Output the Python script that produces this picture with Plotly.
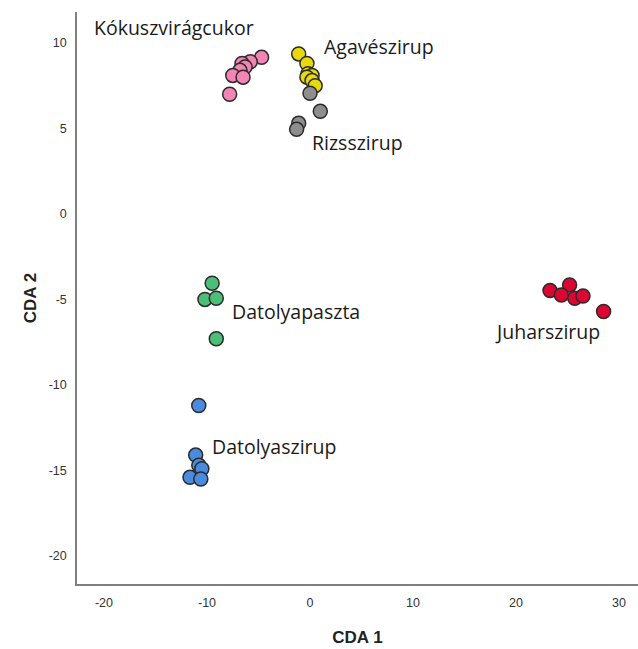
import plotly.graph_objects as go

# Canonical discriminant scores per syrup type
groups = ["Kókuszvirágcukor", "Agavészirup", "Rizsszirup", "Datolyapaszta", "Juharszirup", "Datolyaszirup"]

kokusz_x = [-4.7, -5.8, -6.6, -6.3, -6.8, -7.5, -6.5, -7.8]
kokusz_y = [9.16, 8.9, 8.8, 8.6, 8.4, 8.1, 8.0, 7.0]

agave_x = [-1.1, -0.3, -0.2, 0.2, -0.3, 0.2, 0.5]
agave_y = [9.36, 8.8, 8.2, 8.1, 8.0, 7.8, 7.5]

rizs_x = [0.0, 1.0, -1.1, -1.3]
rizs_y = [7.06, 6.0, 5.3, 4.95]

paszta_x = [-9.5, -10.2, -9.1, -9.1]
paszta_y = [-4.05, -5.0, -4.93, -7.3]

juhar_x = [23.3, 25.2, 24.4, 25.7, 26.5, 28.5]
juhar_y = [-4.48, -4.15, -4.74, -4.93, -4.8, -5.7]

datszir_x = [-10.8, -11.1, -10.8, -10.5, -11.65, -10.6]
datszir_y = [-11.2, -14.1, -14.7, -14.9, -15.4, -15.5]

# Axis ticks (plain hyphen-minus labels)
x_ticks = [-20, -10, 0, 10, 20, 30]
x_ticklabels = ["-20", "-10", "0", "10", "20", "30"]
y_ticks = [-20, -15, -10, -5, 0, 5, 10]
y_ticklabels = ["-20", "-15", "-10", "-5", "0", "5", "10"]

colors = ["#F484B4", "#E8D90C", "#8E8E8E", "#4DBE78", "#DC0632", "#4A8BDE"]

# Label anchor positions (left edge, vertical middle) in data units
label_x = [-21.2, 1.17, 0.0, -7.77, 17.8, -9.7]
label_y = [10.9, 9.82, 4.2, -5.73, -6.9, -13.6]

xs = [kokusz_x, agave_x, rizs_x, paszta_x, juhar_x, datszir_x]
ys = [kokusz_y, agave_y, rizs_y, paszta_y, juhar_y, datszir_y]

fig = go.Figure()
for name, x, y, c in zip(groups, xs, ys, colors):
    fig.add_trace(go.Scatter(
        x=x, y=y, mode="markers", name=name,
        marker=dict(size=14, color=c, line=dict(color="#2b2b2b", width=1.5)),
        showlegend=False,
    ))

for name, lx, ly in zip(groups, label_x, label_y):
    fig.add_annotation(
        x=lx, y=ly, text=name, showarrow=False,
        xanchor="left", yanchor="middle",
        font=dict(family="Open Sans", size=19.5, color="#1a1a1a"),
    )

axis_common = dict(
    showgrid=False, zeroline=False, showline=True,
    linecolor="#808080", linewidth=1.5, ticks="",
    tickfont=dict(family="Arial", size=12.5, color="#333333"),
)

fig.update_xaxes(
    range=[-22.62, 31.84], tickvals=x_ticks, ticktext=x_ticklabels,
    ticklabelstandoff=6,
    title=dict(text="<b>CDA 1</b>", font=dict(family="Arial", size=17, color="#222222"), standoff=22),
    **axis_common,
)
fig.update_yaxes(
    range=[-21.64, 11.81], tickvals=y_ticks, ticktext=y_ticklabels,
    ticklabelstandoff=6,
    title=dict(text="<b>CDA 2</b>", font=dict(family="Arial", size=17, color="#222222"), standoff=8),
    **axis_common,
)

fig.update_layout(
    width=638, height=649,
    margin=dict(l=77, r=0, t=12, b=65),
    plot_bgcolor="white", paper_bgcolor="white",
)

fig.write_html("out.html")
